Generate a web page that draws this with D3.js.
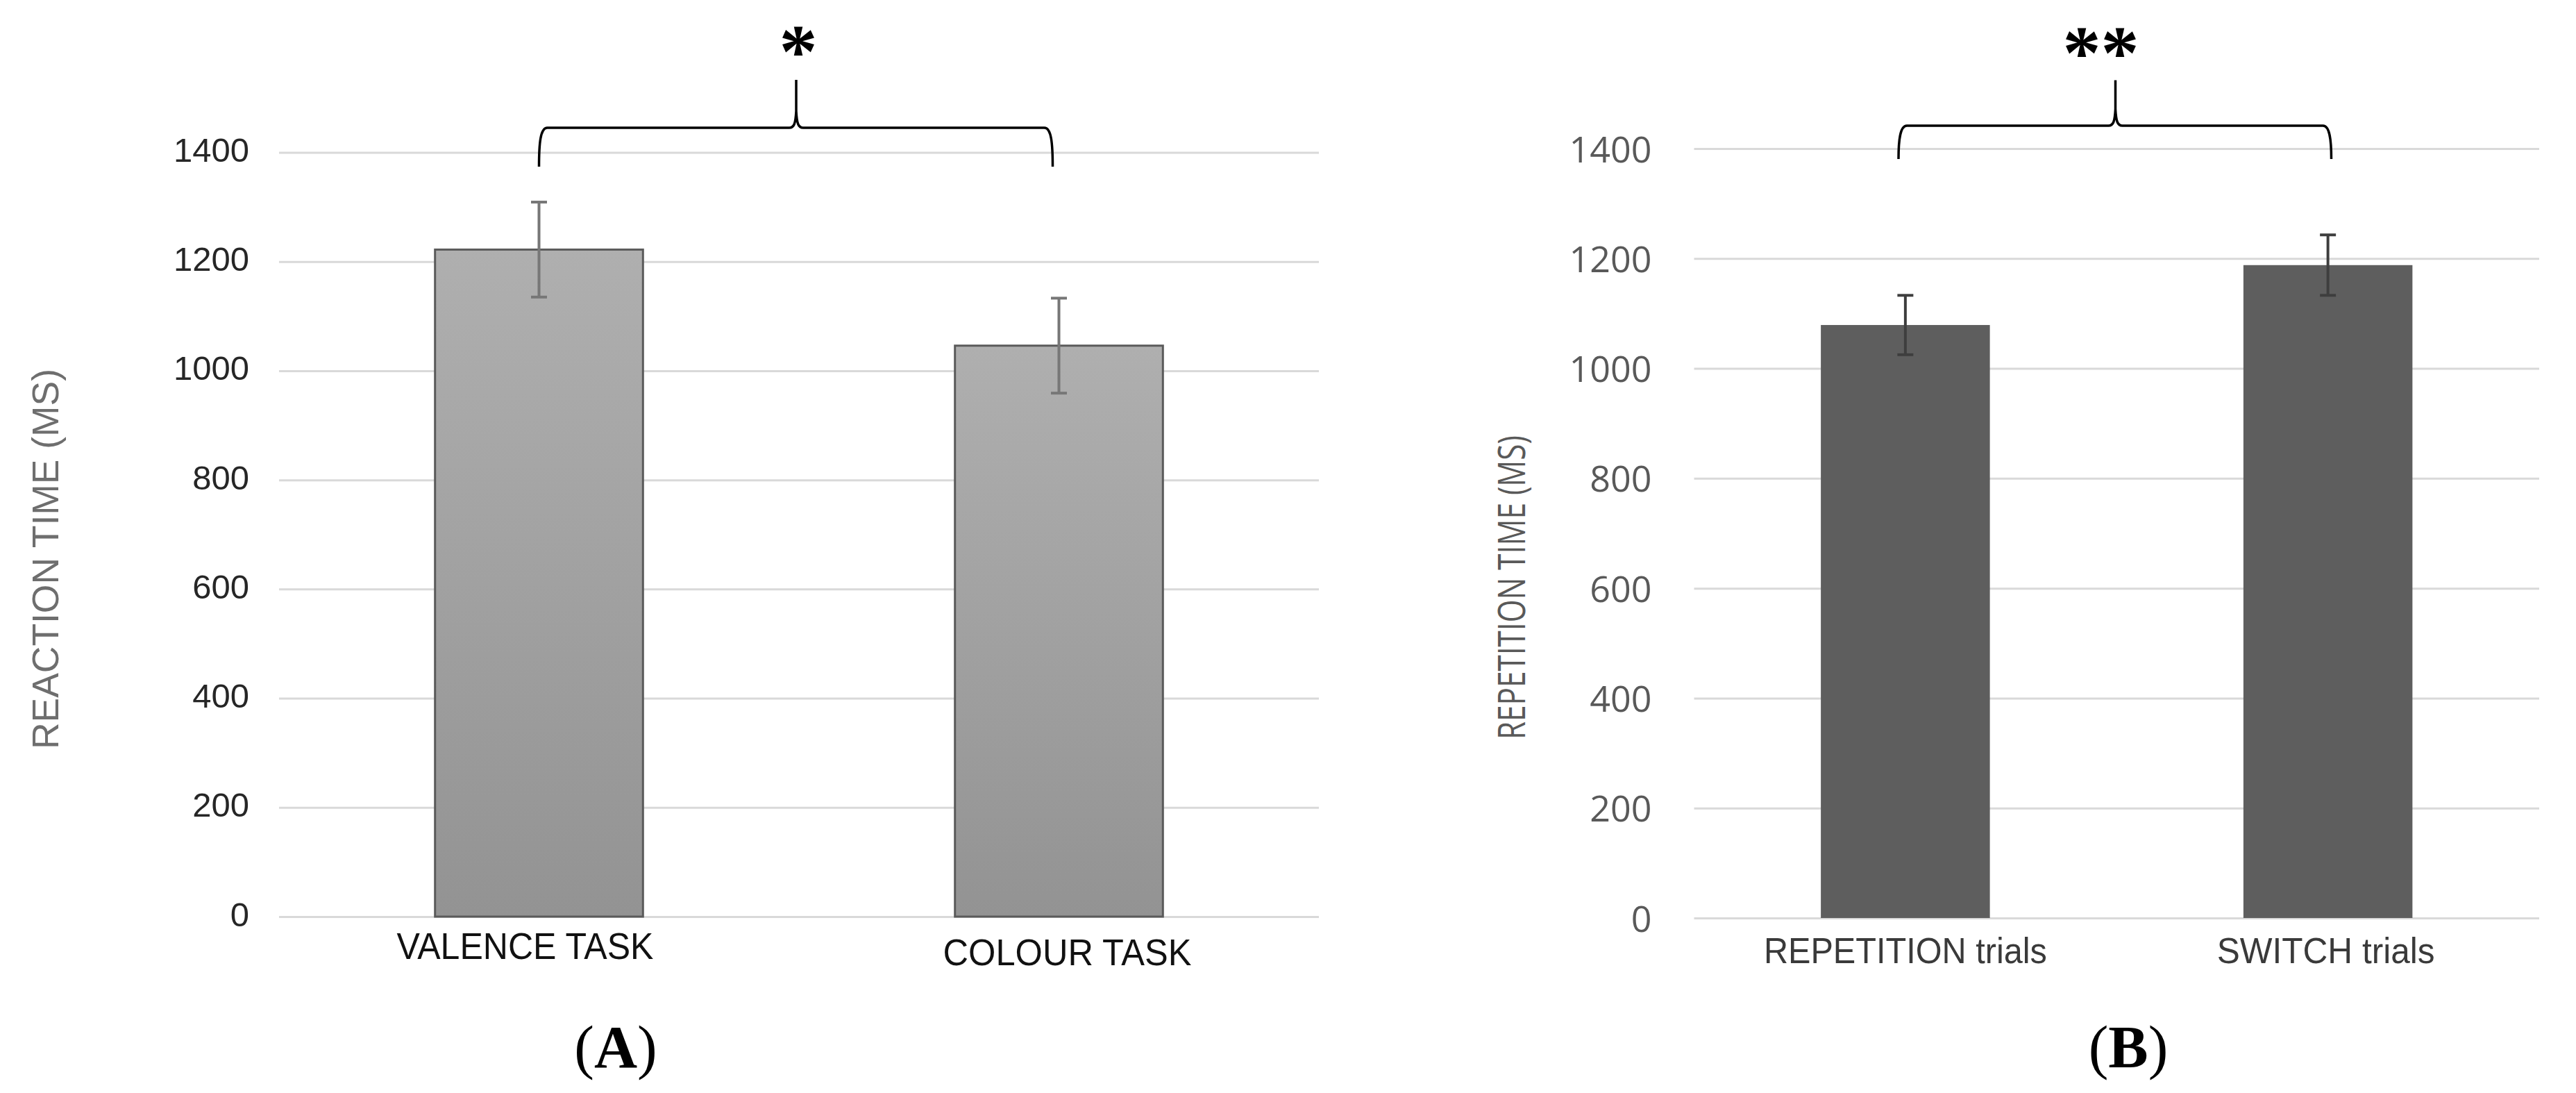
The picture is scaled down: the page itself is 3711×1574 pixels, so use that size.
<!DOCTYPE html>
<html>
<head>
<meta charset="utf-8">
<script src="https://cdn.jsdelivr.net/npm/d3@7"></script>
<style>
  html, body { margin: 0; padding: 0; background: #ffffff; }
  svg { display: block; }
</style>
</head>
<body>
<svg id="chart" width="3711" height="1574"></svg>
<script>
// ---------------- DATA ----------------
const yTicks = [0, 200, 400, 600, 800, 1000, 1200, 1400];

const leftCategories = ["VALENCE TASK", "COLOUR TASK"];
const leftValues = [1222, 1046];
const leftErrors = [87, 87];
const leftYTitle = "REACTION TIME (MS)";

const rightCategories = ["REPETITION trials", "SWITCH trials"];
const rightValues = [1079, 1188];
const rightErrors = [54, 55];
const rightYTitle = "REPETITION TIME (MS)";

const panelLetters = ["A", "B"];
const significanceMarks = ["*", "**"];

// ---------------- LAYOUT ----------------
const svg = d3.select("#chart");
svg.append("rect").attr("width", 3711).attr("height", 1574).attr("fill", "#ffffff");

const defs = svg.append("defs");
const grad = defs.append("linearGradient").attr("id", "barGradA")
  .attr("x1", 0).attr("y1", 0).attr("x2", 0).attr("y2", 1);
grad.append("stop").attr("offset", "0%").attr("stop-color", "#afafaf");
grad.append("stop").attr("offset", "100%").attr("stop-color", "#939393");

const panels = [
  {
    categories: leftCategories, values: leftValues, errors: leftErrors,
    yTitle: leftYTitle, letter: panelLetters[0], mark: significanceMarks[0],
    x0: 402, x1: 1900, yBase: 1320, yTop: 219.5,
    barFill: "url(#barGradA)", barStroke: "#5a5a5a", barStrokeW: 3,
    errColor: "#777777", errW: 4, capW: 23,
    tickFont: "'Liberation Sans', Arial, sans-serif", tickSize: 49, tickColor: "#262626",
    tickPad: 43, tickDy: 13,
    titleFont: "'Liberation Sans', Arial, sans-serif", titleSize: 54, titleColor: "#6e6e6e",
    titleX: 84, titleY: 805, titleLen: 548,
    labelFont: "'Liberation Sans', Arial, sans-serif", labelSize: 54, labelColor: "#111111",
    labelLens: [370, 358], labelNudgeX: [-20, 12], labelBase: [1381, 1390],
    bracket: { left: 776.5, right: 1516.5, center: 1147, yh: 184, yb: 240, ytop: 115 },
    markX: 1150, markTop: 35,
    letterX: 887
  },
  {
    categories: rightCategories, values: rightValues, errors: rightErrors,
    yTitle: rightYTitle, letter: panelLetters[1], mark: significanceMarks[1],
    x0: 2440.5, x1: 3658, yBase: 1322, yTop: 214,
    barFill: "#5e5e5e", barStroke: "none", barStrokeW: 0,
    errColor: "#3e3e3e", errW: 4, capW: 23,
    tickFont: "'Open Sans', sans-serif", tickSize: 52, tickColor: "#595959",
    tickPad: 61, tickDy: 19,
    titleFont: "'Open Sans', sans-serif", titleSize: 54, titleColor: "#595959",
    titleX: 2197, titleY: 846, titleLen: 438,
    labelFont: "'Liberation Sans', Arial, sans-serif", labelSize: 52, labelColor: "#3a3a3a",
    labelLens: [408, 314], labelNudgeX: [0, -3], labelBase: [1387, 1387],
    bracket: { left: 2735, right: 3358.5, center: 3047.5, yh: 181, yb: 229, ytop: 115.5 },
    markX: 3026.5, markTop: 37,
    letterX: 3066
  }
];

panels.forEach(p => {
  const g = svg.append("g");
  const y = d3.scaleLinear().domain([0, 1400]).range([p.yBase, p.yTop]);
  const x = d3.scaleBand().domain(p.categories).range([p.x0, p.x1])
    .paddingInner(0.6).paddingOuter(0.3);

  // gridlines
  const grid = g.append("g").attr("transform", `translate(${p.x0},0)`)
    .call(d3.axisLeft(y).tickValues(yTicks).tickSize(-(p.x1 - p.x0)).tickFormat(""));
  grid.select(".domain").remove();
  grid.selectAll(".tick line").attr("stroke", "#d9d9d9").attr("stroke-width", 3);

  // tick labels
  const ax = g.append("g").attr("transform", `translate(${p.x0},0)`)
    .call(d3.axisLeft(y).tickValues(yTicks).tickFormat(d3.format("d")).tickSize(0).tickPadding(p.tickPad));
  ax.select(".domain").remove();
  ax.selectAll(".tick line").remove();
  ax.selectAll(".tick text")
    .attr("dy", p.tickDy + "px")
    .attr("font-family", p.tickFont)
    .attr("font-size", p.tickSize)
    .attr("fill", p.tickColor);

  // bars
  const data = p.categories.map((c, i) => ({ c, v: p.values[i], e: p.errors[i], i }));
  g.selectAll("rect.bar").data(data).join("rect")
    .attr("class", "bar")
    .attr("x", d => x(d.c))
    .attr("width", x.bandwidth())
    .attr("y", d => y(d.v))
    .attr("height", d => y(0) - y(d.v))
    .attr("fill", p.barFill)
    .attr("stroke", p.barStroke)
    .attr("stroke-width", p.barStrokeW);

  // error bars
  const eg = g.selectAll("g.err").data(data).join("g").attr("class", "err")
    .attr("stroke", p.errColor).attr("stroke-width", p.errW);
  eg.append("line")
    .attr("x1", d => x(d.c) + x.bandwidth() / 2).attr("x2", d => x(d.c) + x.bandwidth() / 2)
    .attr("y1", d => y(d.v + d.e)).attr("y2", d => y(d.v - d.e));
  eg.append("line")
    .attr("x1", d => x(d.c) + x.bandwidth() / 2 - p.capW / 2).attr("x2", d => x(d.c) + x.bandwidth() / 2 + p.capW / 2)
    .attr("y1", d => y(d.v + d.e)).attr("y2", d => y(d.v + d.e));
  eg.append("line")
    .attr("x1", d => x(d.c) + x.bandwidth() / 2 - p.capW / 2).attr("x2", d => x(d.c) + x.bandwidth() / 2 + p.capW / 2)
    .attr("y1", d => y(d.v - d.e)).attr("y2", d => y(d.v - d.e));

  // category labels
  g.selectAll("text.cat").data(data).join("text")
    .attr("class", "cat")
    .attr("x", d => x(d.c) + x.bandwidth() / 2 + p.labelNudgeX[d.i])
    .attr("y", d => p.labelBase[d.i])
    .attr("text-anchor", "middle")
    .attr("font-family", p.labelFont)
    .attr("font-size", p.labelSize)
    .attr("fill", p.labelColor)
    .attr("textLength", d => p.labelLens[d.i])
    .attr("lengthAdjust", "spacingAndGlyphs")
    .text(d => d.c);

  // y-axis title
  g.append("text")
    .attr("transform", `translate(${p.titleX},${p.titleY}) rotate(-90)`)
    .attr("text-anchor", "middle")
    .attr("font-family", p.titleFont)
    .attr("font-size", p.titleSize)
    .attr("fill", p.titleColor)
    .attr("textLength", p.titleLen)
    .attr("lengthAdjust", "spacingAndGlyphs")
    .text(p.yTitle);

  // curly bracket
  const b = p.bracket;
  const path = d3.path();
  path.moveTo(b.left, b.yb);
  path.bezierCurveTo(b.left, b.yh + 22, b.left + 2, b.yh, b.left + 12, b.yh);
  path.lineTo(b.center - 10, b.yh);
  path.bezierCurveTo(b.center - 3, b.yh, b.center - 1, b.yh - 6, b.center, b.yh - 24);
  path.lineTo(b.center, b.ytop);
  path.moveTo(b.center, b.yh - 24);
  path.bezierCurveTo(b.center + 1, b.yh - 6, b.center + 3, b.yh, b.center + 10, b.yh);
  path.lineTo(b.right - 12, b.yh);
  path.bezierCurveTo(b.right - 2, b.yh, b.right, b.yh + 22, b.right, b.yb);
  g.append("path").attr("d", path.toString())
    .attr("fill", "none").attr("stroke", "#000").attr("stroke-width", 3.5);

  // significance mark
  const fs = 110;
  g.append("text")
    .attr("x", p.markX)
    .attr("y", p.markTop + 0.69 * fs)
    .attr("text-anchor", "middle")
    .attr("font-family", "'Liberation Serif', 'Times New Roman', serif")
    .attr("font-weight", "bold")
    .attr("font-size", fs)
    .attr("fill", "#000")
    .text(p.mark);

  // panel letter
  const lt = g.append("text")
    .attr("x", p.letterX)
    .attr("y", 1537)
    .attr("text-anchor", "middle")
    .attr("font-family", "'Liberation Serif', 'Times New Roman', serif")
    .attr("font-size", 86)
    .attr("fill", "#000");
  lt.append("tspan").text("(");
  lt.append("tspan").attr("font-weight", "bold").text(p.letter);
  lt.append("tspan").text(")");
});
</script>
</body>
</html>
